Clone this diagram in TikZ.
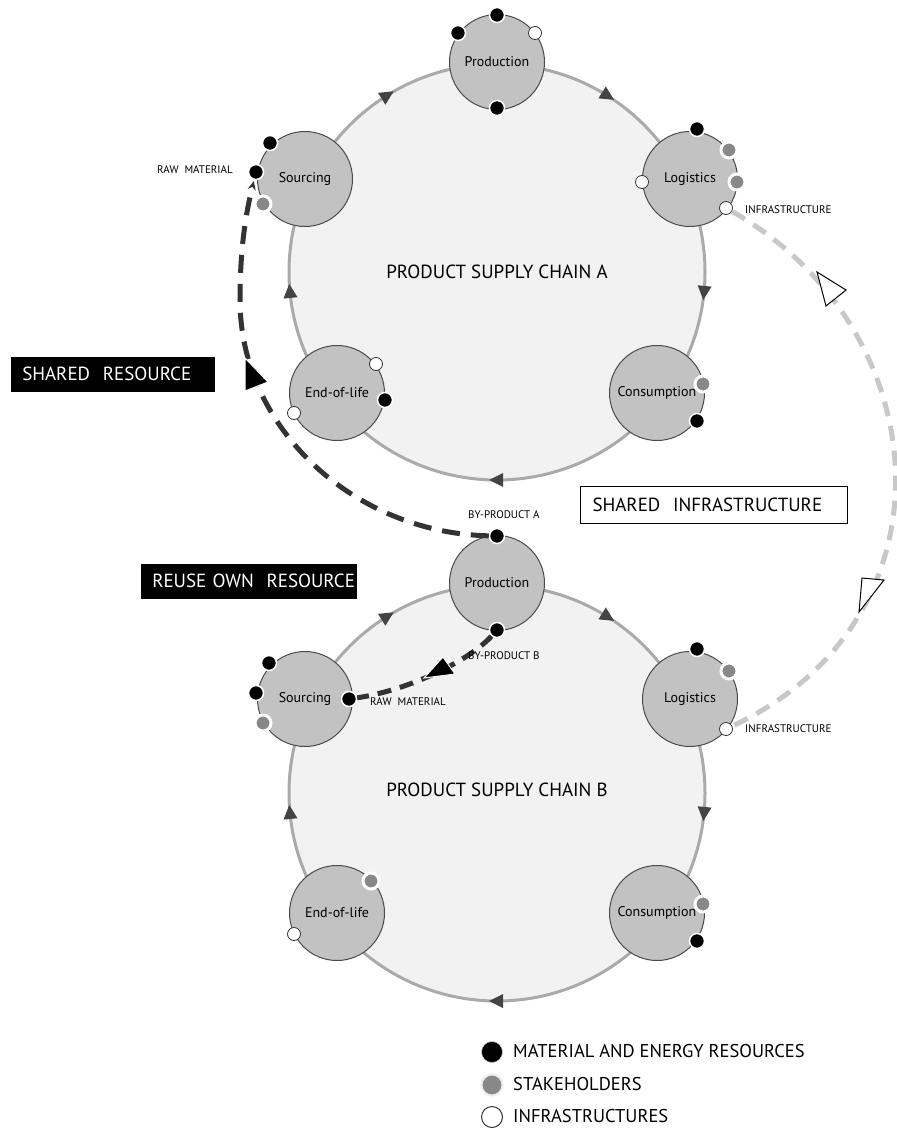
\documentclass[tikz,border=0pt]{standalone}
\usepackage{fontspec}
\setmainfont{PT Sans}
\usetikzlibrary{arrows.meta}
\definecolor{ringgray}{HTML}{AAAAAA}
\definecolor{bigfill}{HTML}{F2F2F2}
\definecolor{nodefill}{HTML}{C2C2C2}
\definecolor{nodeedge}{HTML}{4A4A4A}
\definecolor{stakegray}{HTML}{888888}
\definecolor{darkpath}{HTML}{333333}
\definecolor{lightpath}{HTML}{C8C8C8}
\definecolor{arcarrow}{HTML}{444444}
\tikzset{
  bigring/.style={draw=ringgray, line width=3pt, fill=bigfill},
  stage/.style={circle, fill=nodefill, draw=nodeedge, line width=1pt, minimum size=95pt, inner sep=0pt, font=\fontsize{14}{16}\selectfont},
  bdot/.style={circle, fill=black, draw=white, line width=1.5pt, minimum size=15pt, inner sep=0pt},
  gdot/.style={circle, fill=stakegray, draw=white, line width=3pt, minimum size=16pt, inner sep=0pt},
  wdot/.style={circle, fill=white, draw=darkpath, line width=0.8pt, minimum size=13pt, inner sep=0pt},
  small/.style={font=\fontsize{11}{13}\selectfont, inner sep=0pt},
  chainlabel/.style={font=\fontsize{19}{22}\selectfont},
  blackbox/.style={anchor=west, fill=black, text=white, draw=white, line width=0.5pt, text width=181pt, inner xsep=12pt, minimum height=36pt, align=left, font=\fontsize{19}{22}\selectfont},
  whitebox/.style={anchor=west, fill=white, draw=black, line width=1pt, text width=243pt, inner xsep=12pt, minimum height=37pt, align=left, font=\fontsize{19}{22}\selectfont},
  darkdash/.style={draw=darkpath, line width=5pt, dash pattern=on 18pt off 11pt},
  lightdash/.style={draw=lightpath, line width=5pt, dash pattern=on 15pt off 10pt},
  legendtext/.style={anchor=west, font=\fontsize{18.5}{21}\selectfont, inner sep=0pt},
}
\begin{document}
\begin{tikzpicture}[x=1pt, y=-1pt]
\useasboundingbox (0,0) rectangle (896,1139);
% big rings
\foreach \cy/\nm in {272/A, 793/B}{
  \filldraw[bigring] (497,\cy) circle (208pt);
  \foreach \a/\d in {122/32, 58/-32, -5.5/-95.5, -90/180, 185.5/95.5}{
    \fill[arcarrow, shift={({497+208*cos(\a)},{\cy-208*sin(\a)})}, rotate=\d]
      (8pt,0pt) -- (-6pt,7pt) -- (-6pt,-7pt) -- cycle;
  }
}
\node[chainlabel] (labA) at (497,272) {PRODUCT SUPPLY CHAIN A};
\node[chainlabel] (labB) at (497,790) {PRODUCT SUPPLY CHAIN B};

% stage nodes chain A
\node[stage] (pA) at (497,62) {Production};
\node[stage] (sA) at (305,179) {Sourcing};
\node[stage] (lA) at (690,179) {Logistics};
\node[stage] (eA) at (337,393) {End-of-life};
\node[stage] (cA) at (657,393) {Consumption};
% stage nodes chain B
\node[stage] (pB) at (497,583) {Production};
\node[stage] (sB) at (305,699) {Sourcing};
\node[stage] (lB) at (690,699) {Logistics};
\node[stage] (eB) at (337,913) {End-of-life};
\node[stage] (cB) at (657,913) {Consumption};

% dots chain A
\node[bdot] (pA1) at (497,15) {};
\node[bdot] (pA2) at (458,33) {};
\node[wdot] (pA3) at (535,33) {};
\node[bdot] (pA4) at (497,108) {};
\node[bdot] (sA1) at (270,143) {};
\node[bdot] (rawA) at (256,172) {};
\node[gdot] (sA3) at (263,204) {};
\node[bdot] (lA1) at (697,129) {};
\node[gdot] (lA2) at (729,150) {};
\node[gdot] (lA3) at (737,182) {};
\node[wdot] (infA) at (726,208) {};
\node[wdot] (lA5) at (642,182) {};
\node[wdot] (eA1) at (376,364) {};
\node[bdot] (eA2) at (385,400) {};
\node[wdot] (eA3) at (294,413) {};
\node[gdot] (cA1) at (703,384) {};
\node[bdot] (cA2) at (697,421) {};
% dots chain B
\node[bdot] (byA) at (497,536) {};
\node[bdot] (byB) at (497,630) {};
\node[bdot] (sB1) at (269,663) {};
\node[bdot] (sB2) at (256,693) {};
\node[gdot] (sB3) at (263,723) {};
\node[bdot] (rawB) at (349,699) {};
\node[bdot] (lB1) at (697,649) {};
\node[gdot] (lB2) at (729,671) {};
\node[wdot] (infB) at (726,729) {};
\node[gdot] (eB1) at (371,881) {};
\node[wdot] (eB2) at (294,934) {};
\node[gdot] (cB1) at (703,904) {};
\node[bdot] (cB2) at (697,941) {};

% shared resource path
\draw[darkdash, -{Stealth[length=9pt,width=8pt]}, shorten >=1pt]
  (byA) .. controls (355,533) and (240,429) .. (240,300)
  .. controls (240,240) and (248,205) .. (rawA);
\filldraw[fill=black, draw=white, line width=1pt] (245,358) -- (245,391) -- (268,382) -- cycle;

% reuse own resource path
\draw[darkdash, dash pattern=on 14pt off 9pt] (byB) .. controls (470,660) and (410,690) .. (rawB);
\filldraw[fill=black, draw=white, line width=1pt] (424,678) -- (443,657) -- (455,674) -- cycle;

% shared infrastructure path
\draw[lightdash] (infA) .. controls (940,330) and (960,620) .. (infB);
\filldraw[fill=white, draw=black, line width=1pt] (817,272) -- (826,306) -- (846,290) -- cycle;
\filldraw[fill=white, draw=black, line width=1pt] (859,612) -- (862,578) -- (884,580) -- cycle;

% small labels
\node[small, anchor=east] (lrawA) at (233,170) {RAW\ \ MATERIAL};
\node[small, anchor=west] (linfA) at (745,210) {INFRASTRUCTURE};
\node[small, anchor=west] (lbyA) at (468,515) {BY-PRODUCT A};
\node[small, anchor=west] (lbyB) at (468,656) {BY-PRODUCT B};
\node[small, anchor=west] (lrawB) at (370,702) {RAW\ \ MATERIAL};
\node[small, anchor=west] (linfB) at (745,729) {INFRASTRUCTURE};

% boxes
\node[blackbox] (shres) at (10,374) {\mbox{SHARED\ \ RESOURCE}};
\node[whitebox] (shinf) at (580,504.5) {\mbox{SHARED\ \ INFRASTRUCTURE}};
\node[blackbox, text width=193pt] (reuse) at (140,581) {\mbox{REUSE OWN\ \ RESOURCE}};

% legend
\node[circle, fill=black, draw=gray!50, line width=0.6pt, minimum size=21pt, inner sep=0pt] (k1) at (492,1052) {};
\node[circle, fill=stakegray, draw=gray!15, line width=2pt, minimum size=21pt, inner sep=0pt] (k2) at (492,1085) {};
\node[circle, fill=white, draw=darkpath, line width=1pt, minimum size=21pt, inner sep=0pt] (k3) at (492,1117) {};
\node[legendtext] (t1) at (513,1051) {MATERIAL AND ENERGY RESOURCES};
\node[legendtext] (t2) at (513,1084) {STAKEHOLDERS};
\node[legendtext] (t3) at (513,1116) {INFRASTRUCTURES};
\end{tikzpicture}
\end{document}
